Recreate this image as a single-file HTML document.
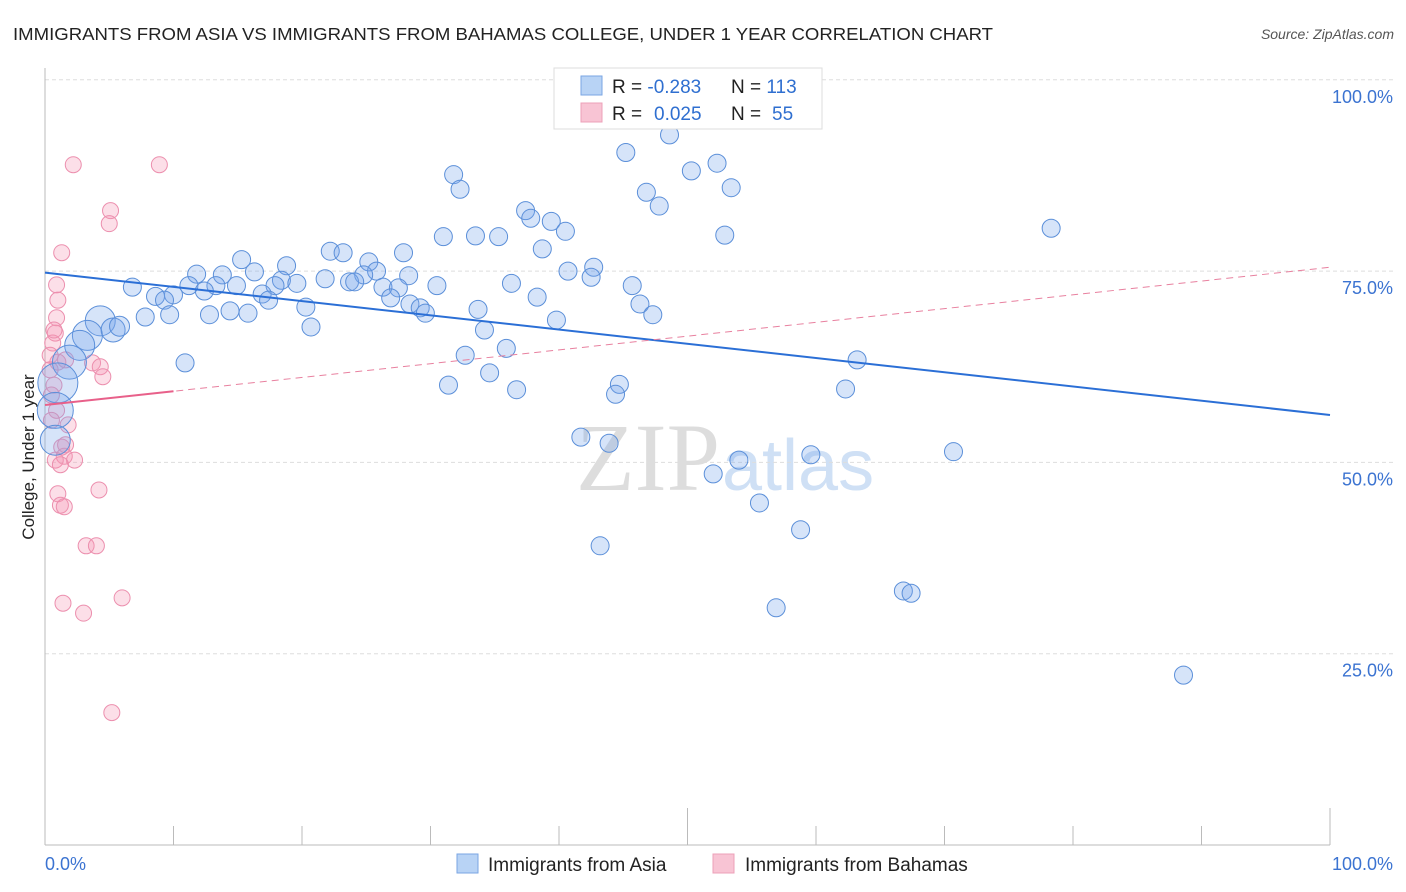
<!DOCTYPE html>
<html><head><meta charset="utf-8"><style>
body{margin:0;background:#fff;font-family:"Liberation Sans",sans-serif;}
#wrap{position:relative;width:1406px;height:892px;overflow:hidden;}
</style></head><body>
<div id="wrap">
<svg id="svg" width="1406" height="892" xmlns="http://www.w3.org/2000/svg">
<text x="13" y="40" font-size="17.5" fill="#222" textLength="980" lengthAdjust="spacingAndGlyphs">IMMIGRANTS FROM ASIA VS IMMIGRANTS FROM BAHAMAS COLLEGE, UNDER 1 YEAR CORRELATION CHART</text>
<text x="1394" y="39" font-size="14" fill="#555" text-anchor="end" font-style="italic">Source: ZipAtlas.com</text>
<text x="720" y="490" font-size="96" fill="#ddd" text-anchor="end" font-family="Liberation Serif,serif">ZIP</text>
<text x="722" y="490" font-size="72" fill="#cfe0f5">atlas</text>
<text transform="translate(34,457) rotate(-90)" font-size="17" fill="#222" text-anchor="middle">College, Under 1 year</text>
<g id="grid"></g><g id="axes"></g><g id="pts"></g><g id="lines"></g>
<g>
<rect x="554" y="68" width="268" height="61" fill="#fff" stroke="#ddd"/>
<rect x="581" y="76" width="21" height="19" fill="#b8d3f5" stroke="#7aa6e3"/>
<rect x="581" y="103" width="21" height="19" fill="#f8c4d4" stroke="#eda0b8"/>
<text x="612" y="93" font-size="19" fill="#222">R = <tspan fill="#2f6fd0">-0.283</tspan></text>
<text x="731" y="93" font-size="19" fill="#222">N = <tspan fill="#2f6fd0">113</tspan></text>
<text x="612" y="120" font-size="19" fill="#222">R =  <tspan fill="#2f6fd0" x="654">0.025</tspan></text>
<text x="731" y="120" font-size="19" fill="#222">N = <tspan fill="#2f6fd0" x="772">55</tspan></text>
</g>
<g>
<rect x="457" y="854" width="21" height="19" fill="#b8d3f5" stroke="#7aa6e3"/>
<text x="488" y="871" font-size="19" fill="#222">Immigrants from Asia</text>
<rect x="713" y="854" width="21" height="19" fill="#f8c4d4" stroke="#eda0b8"/>
<text x="745" y="871" font-size="19" fill="#222">Immigrants from Bahamas</text>
</g>
</svg>
</div>
<script>
const yTicks=[25,50,75,100];
const yTickLabels=["25.0%","50.0%","75.0%","100.0%"];
const xTicks=[0,10,20,30,40,50,60,70,80,90,100];
const asiaX=[48.6,45.2,52.3,50.3,31.8,53.4,32.3,46.8,47.8,37.4,37.8,39.4,40.5,78.3,52.9,31.0,33.5,35.3,38.7,22.2,23.2,27.9,15.3,18.8,25.2,25.8,16.3,40.7,42.7,42.5,36.3,11.8,13.8,24.8,28.3,21.8,18.4,19.6,17.9,13.3,14.9,11.2,12.4,10.0,6.8,8.6,9.3,16.9,17.4,26.3,27.5,23.7,24.1,26.9,30.5,45.7,38.3,28.4,29.2,29.6,33.7,20.3,46.3,47.3,9.7,7.8,12.8,14.4,15.8,20.7,39.8,34.2,35.9,32.7,34.6,31.4,36.7,44.7,44.4,63.2,62.3,10.9,41.7,43.9,54.0,52.0,59.6,70.7,55.6,58.8,43.2,56.9,66.8,67.4,88.6];
const asiaY=[92.8,90.5,89.1,88.1,87.6,85.9,85.7,85.3,83.5,82.9,81.9,81.5,80.2,80.6,79.7,79.5,79.6,79.5,77.9,77.6,77.4,77.4,76.5,75.7,76.2,75.0,74.9,75.0,75.5,74.2,73.4,74.6,74.5,74.5,74.4,74.0,73.8,73.4,73.1,73.1,73.1,73.1,72.4,71.9,72.9,71.7,71.2,72.0,71.2,72.9,72.8,73.6,73.6,71.5,73.1,73.1,71.6,70.7,70.2,69.5,70.0,70.3,70.7,69.3,69.3,69.0,69.3,69.8,69.5,67.7,68.6,67.3,64.9,64.0,61.7,60.1,59.5,60.2,58.9,63.4,59.6,63.0,53.3,52.5,50.3,48.5,51.0,51.4,44.7,41.2,39.1,31.0,33.2,32.9,22.2];
const asiaBigX=[4.3,3.3,5.3,5.8,2.7,1.9,1.0,0.8,0.8];
const asiaBigY=[68.5,66.6,67.3,67.8,65.3,63.1,60.4,56.8,52.9];
const asiaBigN=[15,15,12,10,15,17,20,18,15];
const bahX=[2.2,8.9,5.1,5.0,1.3,0.9,1.0,0.8,0.6,0.4,0.4,1.0,0.7,0.5,0.9,1.8,3.7,4.3,4.5,1.3,1.5,2.3,0.8,1.2,1.0,1.2,1.5,4.2,3.2,4.0,1.4,3.0,6.0,5.2,0.9,0.7,1.6,0.5,1.6];
const bahY=[88.9,88.9,82.9,81.2,77.4,73.2,71.2,66.9,65.6,64.0,62.1,63.1,60.1,58.8,56.8,54.9,63.0,62.5,61.2,52.0,50.8,50.3,50.3,49.7,45.9,44.4,44.2,46.4,39.1,39.1,31.6,30.3,32.3,17.3,68.9,67.3,52.3,55.5,63.4];
const asiaTrend=[74.8,56.2];
const bahTrend=[57.5,75.5];
const bahSolidEnd=10;

const NS="http://www.w3.org/2000/svg";
const X=v=>45+v*12.85, Y=v=>845-v*7.652;
function mk(t,a,p){const e=document.createElementNS(NS,t);for(const k in a)e.setAttribute(k,a[k]);p.appendChild(e);return e;}
const grid=document.getElementById('grid'),axes=document.getElementById('axes'),pts=document.getElementById('pts'),lines=document.getElementById('lines');
yTicks.forEach((t,i)=>{
 const l=mk('line',{x1:45,x2:1394,y1:Y(t),y2:Y(t),stroke:'#ddd','stroke-dasharray':'4,3'},grid);
 
 
 const tx=mk('text',{x:1393,y:Y(t)+23,'font-size':18,fill:'#3b73d1','text-anchor':'end'},grid);
 tx.textContent=yTickLabels[i];
 
 
});
const ya=mk('line',{x1:45,x2:45,y1:68,y2:845,stroke:'#bbb'},axes);


const xa=mk('line',{x1:45,x2:1330,y1:845,y2:845,stroke:'#bbb'},axes);


xTicks.forEach(t=>{if(t===0)return;
 const big=(t===50||t===100);
 const l=mk('line',{x1:X(t),x2:X(t),y1:big?808:826,y2:845,stroke:'#bbb'},axes);
 
 
});
const x0=mk('text',{x:45,y:870,'font-size':18,fill:'#3b73d1'},axes);x0.textContent='0.0%';


const x1=mk('text',{x:1393,y:870,'font-size':18,fill:'#3b73d1','text-anchor':'end'},axes);x1.textContent='100.0%';


bahX.forEach((v,i)=>{
 const c=mk('circle',{cx:X(v),cy:Y(bahY[i]),r:8,fill:'rgba(244,150,180,0.3)',stroke:'#ec8fae','stroke-width':1},pts);
 
 
});
asiaBigX.forEach((v,i)=>{
 const c=mk('circle',{cx:X(v),cy:Y(asiaBigY[i]),r:asiaBigN[i],fill:'rgba(120,165,235,0.3)',stroke:'#5b8fd9','stroke-width':1},pts);
 
 
});
asiaX.forEach((v,i)=>{
 const c=mk('circle',{cx:X(v),cy:Y(asiaY[i]),r:9,fill:'rgba(120,165,235,0.3)',stroke:'#5b8fd9','stroke-width':1},pts);
 
 
});
const t1=mk('line',{x1:X(0),y1:Y(asiaTrend[0]),x2:X(100),y2:Y(asiaTrend[1]),stroke:'#2b6fd6','stroke-width':2},lines);


const t2=mk('line',{x1:X(0),y1:Y(bahTrend[0]),x2:X(100),y2:Y(bahTrend[1]),stroke:'#e8809f','stroke-width':1,'stroke-dasharray':'7,5'},lines);


const se=bahTrend[0]+(bahTrend[1]-bahTrend[0])*bahSolidEnd/100;
const t3=mk('line',{x1:X(0),y1:Y(bahTrend[0]),x2:X(bahSolidEnd),y2:Y(se),stroke:'#e8608a','stroke-width':2},lines);


</script>
</body></html>
